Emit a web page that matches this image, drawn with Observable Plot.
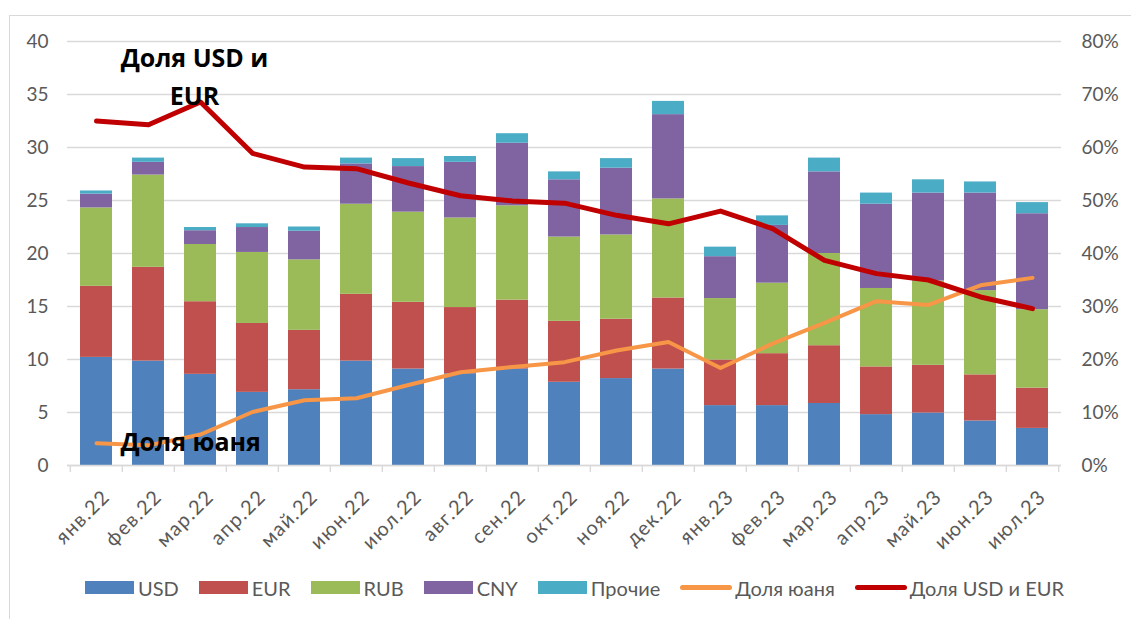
<!DOCTYPE html>
<html>
<head>
<meta charset="utf-8">
<script src="https://cdn.jsdelivr.net/npm/d3@7"></script>
<script src="https://cdn.jsdelivr.net/npm/@observablehq/plot@0.6"></script>
<style>
  html, body { margin: 0; padding: 0; background: #fff; }
  body { width: 1131px; height: 619px; position: relative; overflow: hidden; font-family: Lato, "Noto Sans", sans-serif; }
  #frame { position: absolute; left: 9px; top: 15px; right: -2px; bottom: -2px; border-left: 1.5px solid #d9d9d9; border-top: 1.5px solid #d9d9d9; pointer-events: none; }
  #chart { position: absolute; left: 0; top: 0; }
  #legend { position: absolute; left: 85px; top: 575px; height: 25px; display: flex; align-items: center; color: #595959; font-size: 20px; }
  .item { display: flex; align-items: center; margin-right: 20px; }
  .sw { width: 49px; height: 13px; margin-right: 4px; }
  .ln { width: 52px; height: 5px; border-radius: 3px; margin-right: 3px; }
</style>
</head>
<body>
<div id="frame"></div>
<div id="chart"></div>
<div id="legend"></div>
<script>
const months = ["янв.22","фев.22","мар.22","апр.22","май.22","июн.22","июл.22","авг.22","сен.22","окт.22","ноя.22","дек.22","янв.23","фев.23","мар.23","апр.23","май.23","июн.23","июл.23"];
const usd   = [10.2, 9.85, 8.6, 6.9, 7.15, 9.85, 9.1, 8.65, 9.1, 7.85, 8.2, 9.1, 5.65, 5.65, 5.85, 4.8, 4.95, 4.2, 3.5];
const eur   = [6.7, 8.85, 6.85, 6.5, 5.6, 6.3, 6.3, 6.25, 6.5, 5.75, 5.6, 6.7, 4.3, 4.9, 5.45, 4.5, 4.5, 4.35, 3.8];
const rub   = [7.4, 8.7, 5.4, 6.7, 6.65, 8.5, 8.5, 8.45, 8.9, 7.95, 7.95, 9.35, 5.8, 6.65, 8.7, 7.4, 7.95, 7.95, 7.4];
const cny   = [1.3, 1.2, 1.3, 2.35, 2.7, 3.8, 4.3, 5.25, 5.9, 5.4, 6.3, 7.95, 3.95, 5.45, 7.7, 7.95, 8.3, 9.2, 9.05];
const other = [0.3, 0.4, 0.3, 0.35, 0.4, 0.55, 0.75, 0.55, 0.9, 0.75, 0.9, 1.25, 0.9, 0.9, 1.3, 1.05, 1.25, 1.05, 1.05];
const yuanShare   = [4.2, 3.8, 5.85, 10.1, 12.3, 12.7, 15.2, 17.6, 18.6, 19.5, 21.7, 23.3, 18.4, 23.0, 26.9, 31.0, 30.3, 34.0, 35.4];
const usdEurShare = [65.0, 64.3, 68.6, 58.9, 56.3, 56.0, 53.3, 50.9, 49.9, 49.5, 47.2, 45.6, 48.0, 44.7, 38.7, 36.2, 35.0, 31.8, 29.6];
const seriesNames = ["USD", "EUR", "RUB", "CNY", "Прочие"];
const seriesColors = ["#4F81BD", "#C0504D", "#9BBB59", "#8064A2", "#4BACC6"];
const lineNames = ["Доля юаня", "Доля USD и EUR"];
const lineColors = ["#F79646", "#C00000"];
const leftTicks = [0, 5, 10, 15, 20, 25, 30, 35, 40];
const rightTicks = [0, 10, 20, 30, 40, 50, 60, 70, 80];

const seriesValues = [usd, eur, rub, cny, other];
const table = [];
seriesNames.forEach((s, si) => months.forEach((m, i) => table.push({month: m, series: s, value: seriesValues[si][i]})));
const lineTable = months.map((m, i) => ({month: m, yuan: yuanShare[i], usdeur: usdEurShare[i]}));

const W = 1131, H = 560, ML = 67, MR = 70, MT = 41, MB = 95;
const step = (W - ML - MR) / months.length;
const plotH = H - MT - MB;
const pctToLeft = 40 / 80;

const annotations = [
  {text: "Доля USD и\nEUR", month: "мар.22", value: 36.98},
  {text: "Доля юаня", month: "фев.22", value: 2.08}
];

const chart = Plot.plot({
  width: W, height: H,
  marginLeft: ML, marginRight: MR, marginTop: MT, marginBottom: MB,
  style: {fontFamily: "Lato, 'Noto Sans', sans-serif", fontSize: "19px", color: "#595959", background: "transparent"},
  x: {domain: months, padding: 0, label: null},
  y: {domain: [0, 40], label: null},
  color: {domain: seriesNames, range: seriesColors},
  marks: [
    Plot.gridY({ticks: leftTicks, stroke: "#d9d9d9", strokeOpacity: 1, strokeWidth: 1.4}),
    Plot.barY(table, {x: "month", y: "value", fill: "series", insetLeft: 10, insetRight: 10}),
    Plot.ruleY([0], {stroke: "#d9d9d9", strokeWidth: 1.6}),
    Plot.ruleX(months, {x: d => d, dx: -step / 2, stroke: "#d9d9d9", strokeWidth: 1.4, insetTop: plotH, insetBottom: -7}),
    Plot.ruleX([months[months.length - 1]], {x: d => d, dx: step / 2, stroke: "#d9d9d9", strokeWidth: 1.4, insetTop: plotH, insetBottom: -7}),
    Plot.axisY({anchor: "left", ticks: leftTicks, tickSize: 0, tickPadding: 19, label: null, fill: "#595959"}),
    Plot.axisY({anchor: "right", ticks: leftTicks, tickSize: 0, tickPadding: 20, label: null, fill: "#595959",
      tickFormat: d => `${rightTicks[leftTicks.indexOf(d)]}%`}),
    Plot.axisX({tickSize: 0, tickRotate: -45, tickPadding: 28, dx: 10, label: null, fill: "#595959", fontSize: 20, style: "letter-spacing: 1.3px"}),
    Plot.lineY(lineTable, {x: "month", y: d => d.yuan * pctToLeft, stroke: lineColors[0], strokeWidth: 4, strokeLinejoin: "round", strokeLinecap: "round"}),
    Plot.lineY(lineTable, {x: "month", y: d => d.usdeur * pctToLeft, stroke: lineColors[1], strokeWidth: 5, strokeLinejoin: "round", strokeLinecap: "round"}),
    Plot.text([annotations[0]], {x: "month", y: "value", text: "text", dx: -6, fontFamily: "'Open Sans', sans-serif", fontWeight: "bold", fontSize: 25, fill: "#000", lineHeight: 1.52, textAnchor: "middle"}),
    Plot.text([annotations[1]], {x: "month", y: "value", text: "text", dx: -28, fontFamily: "'Open Sans', sans-serif", fontWeight: "bold", fontSize: 25, fill: "#000", textAnchor: "start"})
  ]
});
document.getElementById("chart").appendChild(chart);
chart.querySelectorAll("g[aria-label='x-axis tick label'] text").forEach(t => t.style.letterSpacing = "1.3px");

const legend = document.getElementById("legend");
seriesNames.forEach((s, i) => {
  const it = document.createElement("div"); it.className = "item";
  it.innerHTML = `<div class="sw" style="background:${seriesColors[i]}"></div><span>${s}</span>`;
  legend.appendChild(it);
});
lineNames.forEach((s, i) => {
  const it = document.createElement("div"); it.className = "item";
  it.innerHTML = `<div class="ln" style="background:${lineColors[i]}"></div><span>${s}</span>`;
  legend.appendChild(it);
});
</script>
</body>
</html>
